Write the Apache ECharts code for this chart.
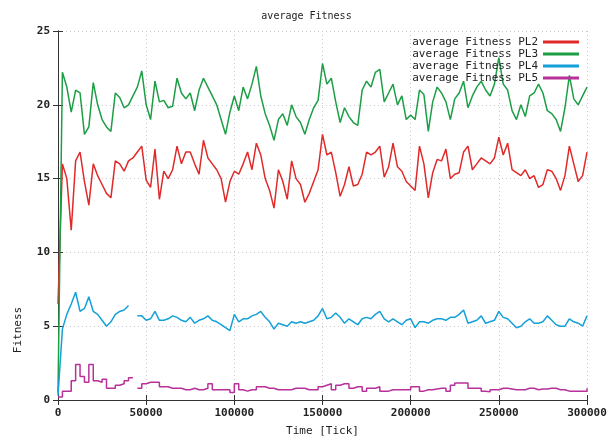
<!DOCTYPE html>
<html>
<head>
<meta charset="utf-8">
<title>average Fitness</title>
<script src="https://cdn.jsdelivr.net/npm/echarts@6/dist/echarts.min.js"></script>
<style>
    html, body { margin: 0; padding: 0; background: #fff; }
    #chart { width: 613px; height: 442px; }
</style>
</head>
<body>
<div id="chart"></div>
<script>
// one sample every 2500 ticks, 0 .. 300000
const tickStep = 2500;
const xTicks = ['0', '50000', '100000', '150000', '200000', '250000', '300000'];
const yTicks = ['0', '5', '10', '15', '20', '25'];
const seriesNames = ['average Fitness PL2', 'average Fitness PL3', 'average Fitness PL4', 'average Fitness PL5'];

const pl2 = [
    6.5, 16.0, 15.0, 11.5, 16.2, 16.8, 14.8, 13.2, 16.0, 15.2, 14.6, 14.0, 13.7, 16.2, 16.0, 15.5,
    16.2, 16.4, 16.8, 17.2, 14.9, 14.4, 17.0, 13.6, 15.5, 15.0, 15.6, 17.2, 16.0, 16.8, 16.8, 16.0,
    15.3, 17.6, 16.4, 16.0, 15.6, 15.0, 13.4, 14.8, 15.5, 15.3, 16.0, 16.8, 15.6, 17.4, 16.6, 15.0,
    14.2, 13.0, 15.6, 14.8, 13.6, 16.2, 15.0, 14.6, 13.4, 14.0, 14.8, 15.6, 18.0, 16.6, 16.8, 15.4,
    13.8, 14.6, 15.8, 14.5, 14.6, 15.3, 16.8, 16.6, 16.8, 17.2, 15.1, 15.8, 17.4, 15.8, 15.5, 14.8,
    14.5, 14.2, 17.2, 16.0, 13.7, 15.4, 16.3, 16.2, 17.0, 15.0, 15.3, 15.4, 16.8, 17.2, 15.6, 16.0,
    16.4, 16.2, 16.0, 16.4, 17.8, 16.6, 17.4, 15.6, 15.4, 15.2, 15.6, 15.0, 15.2, 14.4, 14.6, 15.6,
    15.5, 15.0, 14.2, 15.2, 17.2, 16.0, 14.8, 15.2, 16.8
];
const pl3 = [
    0.5, 22.2, 21.2, 19.5, 21.0, 20.8, 18.0, 18.5, 21.5, 20.0, 19.0, 18.5, 18.2, 20.8, 20.5, 19.8,
    20.0, 20.6, 21.2, 22.3, 20.0, 19.0, 21.6, 20.2, 20.3, 19.8, 19.9, 21.8, 20.8, 20.4, 20.8, 19.6,
    21.0, 21.8, 21.2, 20.6, 20.0, 19.0, 18.0, 19.5, 20.6, 19.6, 21.2, 20.4, 21.4, 22.6, 20.6, 19.4,
    18.6, 17.6, 19.0, 19.4, 18.6, 20.0, 19.2, 18.8, 18.0, 19.0, 19.8, 20.3, 22.8, 21.4, 21.8, 20.2,
    18.8, 19.8, 19.2, 18.8, 18.6, 21.0, 21.6, 21.2, 22.2, 22.4, 20.2, 20.8, 21.4, 20.0, 20.6, 19.0,
    19.3, 19.0, 21.0, 20.7, 18.2, 20.2, 21.2, 20.8, 20.2, 19.0, 20.4, 20.8, 21.6, 19.8, 20.6, 21.2,
    21.6, 21.0, 20.6, 21.4, 23.2, 21.4, 21.0, 19.6, 19.0, 20.0, 19.2, 20.6, 20.8, 21.4, 20.8, 19.6,
    19.4, 19.0, 18.2, 19.8, 22.0, 20.4, 20.0, 20.6, 21.2
];
const pl4 = [
    0.3, 4.8, 5.8, 6.5, 7.3, 6.0, 6.2, 7.0, 6.0, 5.8, 5.4, 5.0, 5.3, 5.8, 6.0, 6.1,
    6.4, null, 5.7, 5.7, 5.4, 5.5, 6.0, 5.4, 5.4, 5.5, 5.7, 5.6, 5.4, 5.3, 5.6, 5.2,
    5.4, 5.5, 5.7, 5.4, 5.3, 5.1, 4.9, 4.7, 5.8, 5.3, 5.5, 5.5, 5.7, 5.8, 6.0, 5.6,
    5.3, 4.8, 5.2, 5.1, 5.0, 5.3, 5.2, 5.3, 5.2, 5.3, 5.4, 5.7, 6.2, 5.5, 5.6, 5.9,
    5.6, 5.2, 5.5, 5.3, 5.1, 5.5, 5.6, 5.5, 5.8, 6.0, 5.5, 5.3, 5.5, 5.3, 5.1, 5.4,
    5.5, 4.9, 5.3, 5.3, 5.2, 5.4, 5.5, 5.5, 5.4, 5.6, 5.6, 5.8, 6.1, 5.2, 5.3, 5.4,
    5.7, 5.2, 5.3, 5.4, 6.0, 5.6, 5.5, 5.2, 4.9, 5.0, 5.3, 5.5, 5.2, 5.2, 5.3, 5.7,
    5.4, 5.1, 5.0, 5.0, 5.5, 5.3, 5.2, 5.0, 5.7
];
const pl5 = [
    0.2, 0.6, 0.6, 1.3, 2.4, 1.6, 1.2, 2.4, 1.3, 1.2, 1.4, 0.8, 0.8, 1.0, 1.1, 1.3,
    1.5, null, 0.8, 1.1, 1.2, 1.2, 1.2, 0.9, 0.9, 0.8, 0.8, 0.8, 0.7, 0.7, 0.8, 0.7,
    0.7, 0.8, 1.1, 0.7, 0.7, 0.7, 0.7, 0.5, 1.1, 0.7, 0.6, 0.7, 0.7, 0.9, 0.9, 0.8,
    0.8, 0.7, 0.7, 0.7, 0.7, 0.8, 0.8, 0.8, 0.7, 0.7, 0.7, 0.9, 1.0, 1.1, 0.7, 1.0,
    1.1, 1.1, 0.8, 0.9, 0.9, 0.6, 0.8, 0.8, 0.9, 0.6, 0.6, 0.7, 0.7, 0.7, 0.7, 0.7,
    0.9, 0.9, 0.6, 0.7, 0.7, 0.75, 0.8, 0.8, 0.6, 1.0, 1.15, 1.15, 1.15, 0.8, 0.8, 0.8,
    0.6, 0.55, 0.7, 0.7, 0.8, 0.8, 0.75, 0.7, 0.7, 0.7, 0.8, 0.8, 0.7, 0.75, 0.75, 0.8,
    0.8, 0.7, 0.7, 0.6, 0.6, 0.6, 0.6, 0.6, 0.8
];

const colors = ['#e02a2a', '#1c9e45', '#14a0d8', '#b8309a'];
// PL5 holds its value between samples, the others are plain lines
const stepped = [false, false, false, 'end'];
const monoFont = 'DejaVu Sans Mono';

// pair each value with its time
function withTime(values) {
    return values.map((v, i) => [i * tickStep, v]);
}

const myEcharts = echarts.init(document.getElementById('chart'), null, { renderer: 'canvas' });

const xMin = Number(xTicks[0]);
const xMax = Number(xTicks[xTicks.length - 1]);
const xInterval = Number(xTicks[1]) - xMin;
const yMin = Number(yTicks[0]);
const yMax = Number(yTicks[yTicks.length - 1]);
const yInterval = Number(yTicks[1]) - yMin;

const tickStyle = { show: true, inside: true, length: 5, lineStyle: { color: '#333' } };
const gridLine = { show: true, lineStyle: { color: '#c8c8d0', type: [1, 3], width: 1 } };

const option = {
    animation: false,
    color: colors,
    title: {
        text: 'average Fitness',
        left: 'center',
        top: 6,
        textStyle: { fontFamily: monoFont, fontSize: 10, fontWeight: 'normal', color: '#222' }
    },
    legend: {
        orient: 'vertical',
        right: 29,
        top: 31,
        align: 'right',
        icon: 'rect',
        itemWidth: 36,
        itemHeight: 3,
        itemGap: 0,
        data: seriesNames,
        textStyle: { fontFamily: monoFont, fontSize: 11, color: '#222', lineHeight: 12 }
    },
    grid: { left: 58, right: 26, top: 31, bottom: 38 },
    xAxis: [
        {
            type: 'value',
            min: xMin,
            max: xMax,
            interval: xInterval,
            name: 'Time [Tick]',
            nameLocation: 'middle',
            nameGap: 26,
            nameTextStyle: { fontFamily: monoFont, fontSize: 11, color: '#222' },
            axisLine: { show: true, lineStyle: { color: '#333' } },
            axisTick: tickStyle,
            splitLine: gridLine,
            axisLabel: {
                fontFamily: monoFont,
                fontSize: 11,
                fontWeight: 'bold',
                color: '#222',
                margin: 8,
                formatter: v => xTicks[Math.round((v - xMin) / xInterval)]
            }
        },
        {
            // mirrored top border
            type: 'value',
            position: 'top',
            min: xMin,
            max: xMax,
            interval: xInterval,
            axisLine: { show: true, lineStyle: { color: '#333' } },
            axisTick: tickStyle,
            axisLabel: { show: false },
            splitLine: { show: false }
        }
    ],
    yAxis: [
        {
            type: 'value',
            min: yMin,
            max: yMax,
            interval: yInterval,
            axisLine: { show: true, lineStyle: { color: '#333' } },
            axisTick: tickStyle,
            splitLine: gridLine,
            axisLabel: {
                fontFamily: monoFont,
                fontSize: 11,
                fontWeight: 'bold',
                color: '#222',
                margin: 8,
                formatter: v => yTicks[Math.round((v - yMin) / yInterval)]
            }
        },
        {
            // mirrored right border
            type: 'value',
            position: 'right',
            min: yMin,
            max: yMax,
            interval: yInterval,
            axisLine: { show: true, lineStyle: { color: '#333' } },
            axisTick: tickStyle,
            axisLabel: { show: false },
            splitLine: { show: false }
        }
    ],
    graphic: [
        {
            type: 'text',
            x: 18,
            y: 330,
            rotation: Math.PI / 2,
            style: {
                text: 'Fitness',
                fontFamily: monoFont,
                fontSize: 11,
                fill: '#222',
                align: 'center',
                verticalAlign: 'middle'
            }
        }
    ],
    series: [pl2, pl3, pl4, pl5].map((values, i) => ({
        name: seriesNames[i],
        type: 'line',
        step: stepped[i],
        showSymbol: false,
        connectNulls: false,
        lineStyle: { width: 1.5, color: colors[i] },
        itemStyle: { color: colors[i] },
        data: withTime(values)
    }))
};

myEcharts.setOption(option);
</script>
</body>
</html>
